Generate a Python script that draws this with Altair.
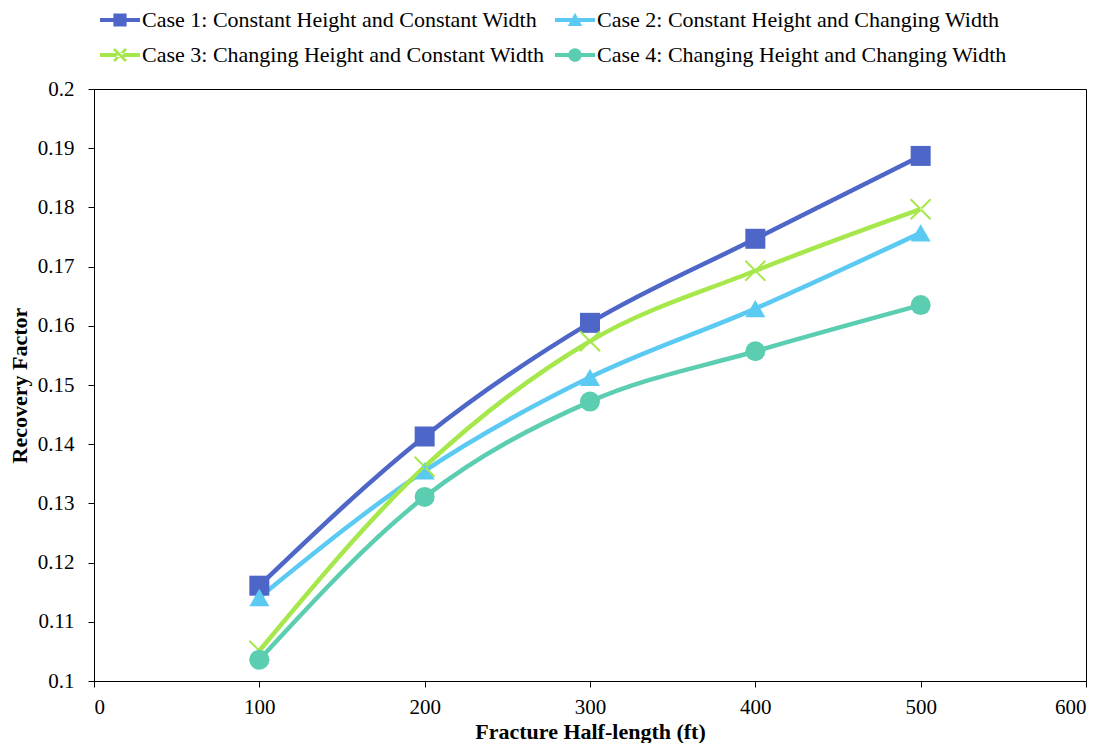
import altair as alt
import pandas as pd

x_vals = [100, 200, 300, 400, 500]
case_names = [
    "Case 1: Constant Height and Constant Width",
    "Case 2: Constant Height and Changing Width",
    "Case 3: Changing Height and Constant Width",
    "Case 4: Changing Height and Changing Width",
]
case1 = [0.1161, 0.1413, 0.1605, 0.1747, 0.1887]
case2 = [0.1141, 0.1355, 0.1513, 0.1629, 0.1757]
case3 = [0.1051, 0.1362, 0.1574, 0.1693, 0.1797]
case4 = [0.1036, 0.1311, 0.1472, 0.1557, 0.1635]
colors = ["#4E66C8", "#5BCAF3", "#A6E84C", "#5BCDB0"]
x_ticks = [0, 100, 200, 300, 400, 500, 600]
y_ticks = [0.1, 0.11, 0.12, 0.13, 0.14, 0.15, 0.16, 0.17, 0.18, 0.19, 0.2]

rows = []
for name, ys in zip(case_names, [case1, case2, case3, case4]):
    for xv, yv in zip(x_vals, ys):
        rows.append({"Case": name, "x": xv, "y": yv})
df = pd.DataFrame(rows)

FONT = "Liberation Serif"

# marker shapes in plot
xpath_plot = ("M-0.93,-1.07L1.07,0.93L0.93,1.07L-1.07,-0.93Z"
              "M-0.93,1.07L1.07,-0.93L0.93,-1.07L-1.07,0.93Z")
plot_shapes = ["square", "triangle-up", xpath_plot, "circle"]

# legend symbols: line + marker (unit = half of 40px)
line = "M-1,-0.1L1,-0.1L1,0.1L-1,0.1Z"
m = 0.33
sq = f"M-{m},-{m}L{m},-{m}L{m},{m}L-{m},{m}Z"
tri = "M0,-0.36L0.36,0.3L-0.36,0.3Z"
d = 0.05
xm = 0.3
xl = (f"M{-xm+d},{-xm-d}L{xm+d},{xm-d}L{xm-d},{xm+d}L{-xm-d},{-xm+d}Z"
      f"M{-xm+d},{xm+d}L{xm+d},{-xm+d}L{xm-d},{-xm-d}L{-xm-d},{xm-d}Z")
r = 0.34
circ = f"M{r},0A{r},{r} 0 1,1 -{r},0A{r},{r} 0 1,1 {r},0Z"
legend_shapes = [line + sq, line + tri, line + xl, line + circ]

base = alt.Chart(df).encode(
    x=alt.X(
        "x:Q",
        scale=alt.Scale(domain=[0, 600], nice=False, zero=False),
        axis=alt.Axis(values=x_ticks, title="Fracture Half-length (ft)", format="d"),
    ),
    y=alt.Y(
        "y:Q",
        scale=alt.Scale(domain=[0.1, 0.2], nice=False, zero=False),
        axis=alt.Axis(values=y_ticks, title="Recovery Factor", format="~g"),
    ),
)

lines = base.mark_line(interpolate="monotone", strokeWidth=4.5).encode(
    color=alt.Color("Case:N", scale=alt.Scale(domain=case_names, range=colors), legend=None),
    order=alt.Order("x:Q"),
)

points = base.mark_point(filled=True, opacity=1, size=400).encode(
    color=alt.Color("Case:N", scale=alt.Scale(domain=case_names, range=colors), legend=None),
    shape=alt.Shape("Case:N", scale=alt.Scale(domain=case_names, range=plot_shapes), legend=None),
)

leg = alt.Legend(
    title=None,
    orient="none",
    legendX=6,
    legendY=-89,
    direction="horizontal",
    columns=2,
    columnPadding=10,
    rowPadding=4,
    symbolSize=1600,
    symbolStrokeWidth=0,
    symbolOpacity=1,
    labelFont=FONT,
    labelFontSize=22,
    labelColor="black",
    labelLimit=0,
    labelOffset=2,
)

legend_layer = base.mark_point(filled=True, opacity=1, size=1600).encode(
    color=alt.Color("Case:N", scale=alt.Scale(domain=case_names, range=colors), legend=leg),
    shape=alt.Shape("Case:N", scale=alt.Scale(domain=case_names, range=legend_shapes), legend=leg),
).transform_filter("false")

chart = (
    alt.layer(lines, points, legend_layer)
    .resolve_scale(color="independent", shape="independent")
    .properties(
        width=992,
        height=592,
        autosize=alt.AutoSizeParams(type="none"),
        padding={"left": 86, "top": 81, "right": 12, "bottom": 62},
        background="white",
    )
    .configure_view(stroke="black", strokeWidth=1)
    .configure_axis(
        grid=False,
        domainColor="black",
        domainWidth=1,
        tickColor="black",
        tickSize=6,
        labelFont=FONT,
        labelFontSize=21,
        labelColor="black",
        titleFont=FONT,
        titleFontWeight="bold",
        titleColor="black",
    )
    .configure_axisX(labelPadding=9, titlePadding=4, titleFontSize=22)
    .configure_axisY(labelPadding=14, titlePadding=6, titleFontSize=22)
)

chart.save("out.html", embed_options={"renderer": "svg", "actions": False})
